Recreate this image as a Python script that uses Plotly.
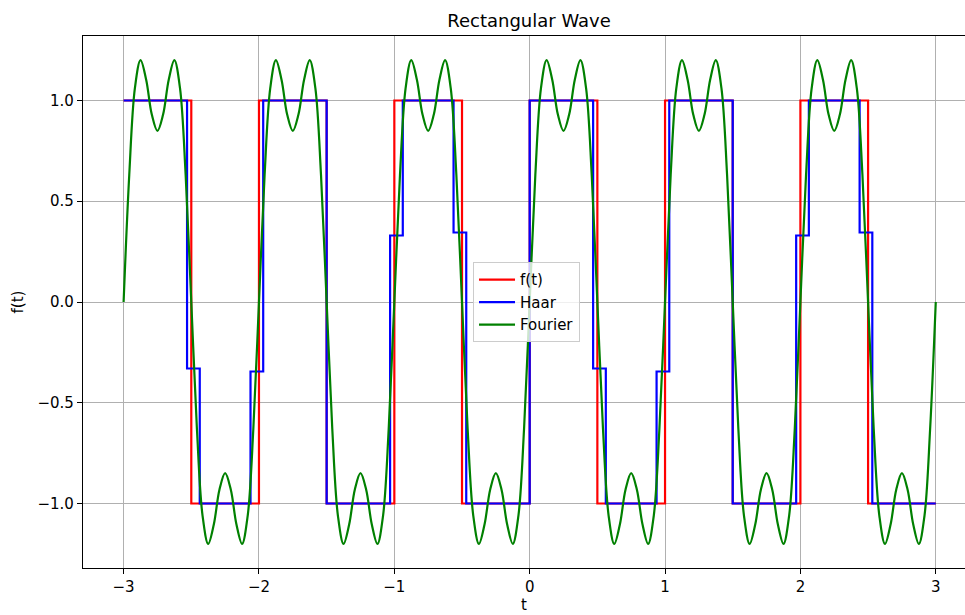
import numpy as np
import plotly.graph_objects as go

# ---- data ----
# rectangular wave f(t): breakpoints and level on each half period
f_breaks = [-3.0, -2.5, -2.0, -1.5, -1.0, -0.5, 0.0, 0.5, 1.0, 1.5, 2.0, 2.5, 3.0]
f_levels = [1, -1, 1, -1, 1, -1, 1, -1, 1, -1, 1, -1]

# Haar approximation: 64 equal bins on [-3, 3]
haar_bins = 64
haar_levels = [
    1, 1, 1, 1, 1, -0.33, -1, -1, -1, -1,
    -0.345, 1, 1, 1, 1, 1, -1, -1, -1, -1,
    -1, 0.33, 1, 1, 1, 1, 0.345, -1, -1, -1,
    -1, -1, 1, 1, 1, 1, 1, -0.33, -1, -1,
    -1, -1, -0.345, 1, 1, 1, 1, 1, -1, -1,
    -1, -1, -1, 0.33, 1, 1, 1, 1, 0.345, -1,
    -1, -1, -1, -1,
]

# Fourier approximation sampled every 1/24 on [-3, 3]
fourier_samples = 145
fourier_values = [
    0.0, 0.630, 1.061, 1.200, 1.103, 0.930, 0.849, 0.930, 1.103, 1.200, 1.061, 0.630,
    0.0, -0.630, -1.061, -1.200, -1.103, -0.930, -0.849, -0.930, -1.103, -1.200, -1.061, -0.630,
    0.0, 0.630, 1.061, 1.200, 1.103, 0.930, 0.849, 0.930, 1.103, 1.200, 1.061, 0.630,
    0.0, -0.630, -1.061, -1.200, -1.103, -0.930, -0.849, -0.930, -1.103, -1.200, -1.061, -0.630,
    0.0, 0.630, 1.061, 1.200, 1.103, 0.930, 0.849, 0.930, 1.103, 1.200, 1.061, 0.630,
    0.0, -0.630, -1.061, -1.200, -1.103, -0.930, -0.849, -0.930, -1.103, -1.200, -1.061, -0.630,
    0.0, 0.630, 1.061, 1.200, 1.103, 0.930, 0.849, 0.930, 1.103, 1.200, 1.061, 0.630,
    0.0, -0.630, -1.061, -1.200, -1.103, -0.930, -0.849, -0.930, -1.103, -1.200, -1.061, -0.630,
    0.0, 0.630, 1.061, 1.200, 1.103, 0.930, 0.849, 0.930, 1.103, 1.200, 1.061, 0.630,
    0.0, -0.630, -1.061, -1.200, -1.103, -0.930, -0.849, -0.930, -1.103, -1.200, -1.061, -0.630,
    0.0, 0.630, 1.061, 1.200, 1.103, 0.930, 0.849, 0.930, 1.103, 1.200, 1.061, 0.630,
    0.0, -0.630, -1.061, -1.200, -1.103, -0.930, -0.849, -0.930, -1.103, -1.200, -1.061, -0.630,
    0.0,
]

x_ticks = [-3, -2, -1, 0, 1, 2, 3]
y_ticks = [-1.0, -0.5, 0.0, 0.5, 1.0]

# ---- figure ----
FONT = "DejaVu Sans"

haar_x = np.linspace(-3, 3, haar_bins + 1)
fourier_x = np.linspace(-3, 3, fourier_samples)

fig = go.Figure()
fig.add_trace(go.Scatter(
    x=f_breaks, y=f_levels + [f_levels[-1]], mode="lines", name="f(t)",
    line=dict(color="#ff0000", width=2.2, shape="hv")))
fig.add_trace(go.Scatter(
    x=haar_x, y=haar_levels + [haar_levels[-1]], mode="lines", name="Haar",
    line=dict(color="#0000ff", width=2.2, shape="hv")))
fig.add_trace(go.Scatter(
    x=fourier_x, y=fourier_values, mode="lines", name="Fourier",
    line=dict(color="#008000", width=2.2, shape="spline", smoothing=1.0)))

axis_common = dict(
    showgrid=True, gridcolor="#b0b0b0", gridwidth=1.1,
    zeroline=False, showline=True, linecolor="#000000", linewidth=1.2,
    ticks="outside", ticklen=5, tickwidth=1.2, tickcolor="#000000",
    tickfont=dict(family=FONT, size=15, color="#000000"),
)

fig.update_layout(
    width=965, height=615,
    margin=dict(l=83, r=0, t=36, b=47),
    paper_bgcolor="white", plot_bgcolor="white",
    font=dict(family=FONT, size=15, color="#000000"),
    title=dict(text="Rectangular Wave", x=0.5057, xref="paper", xanchor="center",
               y=0.967, yref="container", yanchor="middle",
               font=dict(family=FONT, size=18, color="#000000")),
    xaxis=dict(range=[-3.3, 3.216], tickvals=x_ticks, mirror=True,
               title=dict(text="t", standoff=3, font=dict(family=FONT, size=15)),
               **axis_common),
    yaxis=dict(range=[-1.32, 1.32], tickvals=y_ticks, tickformat=".1f",
               title=dict(text="f(t)", standoff=10, font=dict(family=FONT, size=15)),
               **axis_common),
    legend=dict(x=0.4422, y=0.5745, xanchor="left", yanchor="top",
                bgcolor="rgba(255,255,255,0.8)", bordercolor="#cccccc", borderwidth=1,
                font=dict(family=FONT, size=15), itemwidth=36),
    showlegend=True,
)

fig.write_html("out.html", config={"displayModeBar": False},
               post_script="document.body.style.margin='0';")
